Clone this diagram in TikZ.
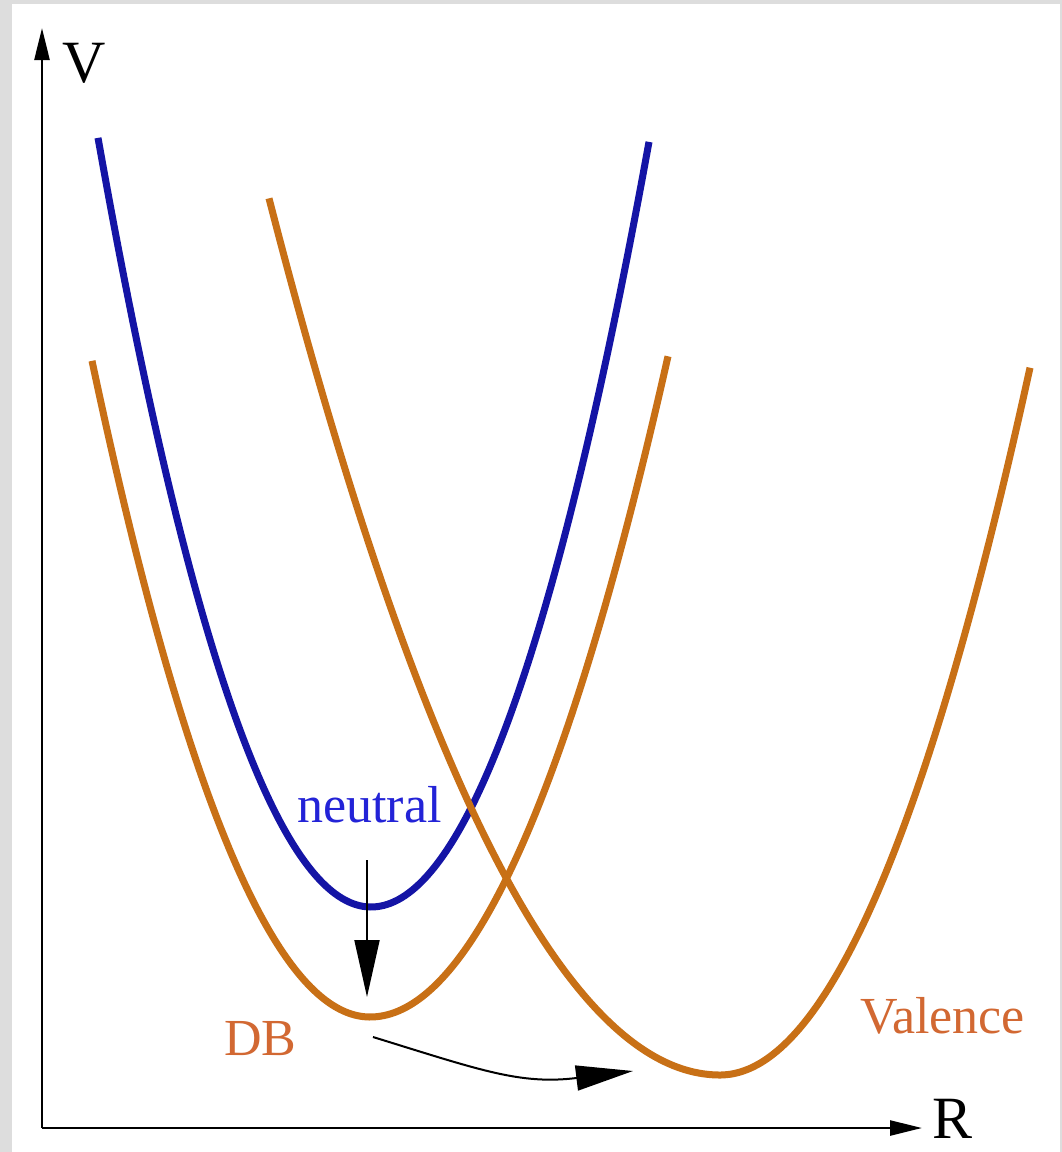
\documentclass[tikz,border=0pt]{standalone}
\usepackage{fontspec}
\setmainfont{Liberation Serif}
\usetikzlibrary{arrows.meta}
\definecolor{framegray}{RGB}{221,221,221}
\definecolor{neutralblue}{RGB}{20,20,165}
\definecolor{neutraltext}{RGB}{35,35,215}
\definecolor{wellorange}{RGB}{200,112,22}
\definecolor{labelorange}{RGB}{210,104,50}

\begin{document}
\begin{tikzpicture}[x=1pt, y=-1pt,
    axis/.style={line width=2.5pt, -{Triangle[length=32pt, width=15pt]}},
    well/.style={line width=7pt, smooth, samples=80},
    hop/.style={line width=2pt, -{Triangle[length=57pt, width=25pt]}},
    lbl/.style={inner sep=0pt, anchor=base west,
      font=\fontsize{52}{60}\selectfont}]
  \useasboundingbox (0,0) rectangle (1062,1152);
  \fill[framegray] (0,0) rectangle (1062,1152);
  \fill[white] (12,4) rectangle (1060,1152);

  % axes
  \coordinate (origin) at (42,1128);
  \coordinate (vtop) at (42,28);
  \coordinate (rend) at (922,1128);
  \draw[axis] (origin) -- (vtop);
  \draw[axis] (origin) -- (rend);
  \node[lbl, font=\fontsize{60}{70}\selectfont] (vname) at (62,82) {V};
  \node[lbl, font=\fontsize{60}{70}\selectfont] (rname) at (932,1138) {R};

  % potential wells
  \draw[well, neutralblue] plot[domain=98:649]
    (\x, {907-(\x<371 ? 103.2 : 99.0)*((\x-371)/100)^2});
  \draw[well, wellorange] plot[domain=92:668]
    (\x, {1017-(\x<370 ? 84.9 : 74.4)*((\x-370)/100)^2});
  \draw[well, wellorange] plot[domain=269:1030]
    (\x, {1075-(\x<720 ? 43.1 : 73.6)*((\x-720)/100)^2});

  % labels
  \node[lbl, text=neutraltext] (neutral) at (297,822) {neutral};
  \node[lbl, text=labelorange] (db) at (224,1055) {DB};
  \node[lbl, text=labelorange] (valence) at (860,1033) {Valence};

  % transitions
  \coordinate (drop) at (367,860);
  \coordinate (dbmin) at (367,997);
  \coordinate (leave) at (373,1037);
  \coordinate (arrive) at (633,1071);
  \draw[hop] (drop) -- (dbmin);
  \draw[hop] (leave) .. controls (480,1070) and (520,1085) .. (arrive);
\end{tikzpicture}
\end{document}
